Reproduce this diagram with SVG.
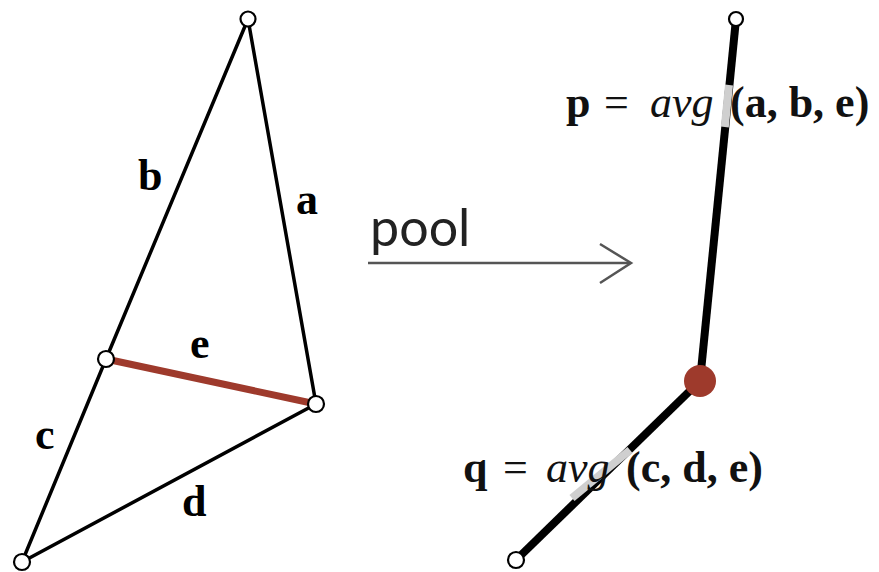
<svg xmlns="http://www.w3.org/2000/svg" width="879" height="572" viewBox="0 0 879 572">
<style>
.edge{stroke:#000;stroke-width:3.5;fill:none;stroke-linecap:round}
.red{stroke:#9e3a2c;stroke-width:7;fill:none}
.node{fill:#fff;stroke:#000;stroke-width:2.2}
.lbl{font-family:"Liberation Serif","DejaVu Serif",serif;font-weight:bold;font-size:44px;fill:#000}
.eq{font-family:"Liberation Serif","DejaVu Serif",serif;font-size:44px;fill:#111}
.b{font-weight:bold}
.i{font-style:italic}
.thick{stroke:#000;stroke-width:8;fill:none}
.hl{stroke:#cfcfcf;stroke-width:8;fill:none}
.pool{font-family:"Lato","Open Sans",sans-serif;font-weight:400;font-size:52px;fill:#222}
</style>
<rect width="879" height="572" fill="#fff"/>
<g id="connectors">
<line class="edge" x1="248" y1="19" x2="106" y2="359"/>
<line class="edge" x1="248" y1="19" x2="316" y2="404"/>
<line class="edge" x1="106" y1="359" x2="22" y2="562"/>
<line class="edge" x1="22" y1="562" x2="316" y2="404"/>
<line class="red" x1="106" y1="359" x2="316" y2="404"/>
<line class="thick" x1="736" y1="19" x2="700" y2="381"/>
<line class="hl" x1="729" y1="85" x2="724.8" y2="127"/>
<line class="thick" x1="700" y1="381" x2="516" y2="560"/>
<line class="hl" x1="630" y1="450" x2="572" y2="498"/>
<g stroke="#555" stroke-width="2.5" fill="none">
<line x1="368" y1="263" x2="630" y2="263"/>
<polyline points="600,244 631,263 600,283"/>
</g>
</g>
<g id="n_top"><circle class="node" cx="248" cy="19" r="7.5"/></g>
<g id="n_right"><circle class="node" cx="316" cy="404" r="8"/></g>
<g id="n_mid"><circle class="node" cx="106" cy="359" r="8"/></g>
<g id="n_bottom"><circle class="node" cx="22" cy="562" r="8"/></g>
<g id="n_rtop"><circle class="node" cx="736" cy="19" r="7"/></g>
<g id="n_rbot"><circle class="node" cx="516" cy="560" r="8"/></g>
<g id="n_pooled"><circle cx="700" cy="381" r="16" fill="#9e3a2c"/></g>
<g id="labels">
<text class="lbl" x="138" y="190">b</text>
<text class="lbl" x="296" y="214">a</text>
<text class="lbl" x="190" y="358">e</text>
<text class="lbl" x="35" y="449">c</text>
<text class="lbl" x="182" y="516">d</text>
<text class="pool" x="370" y="246">pool</text>
<text class="eq" y="117"><tspan class="b" x="566">p</tspan><tspan x="604">=</tspan><tspan class="i" x="650">avg</tspan><tspan class="b" x="730">(a, b, e)</tspan></text>
<text class="eq" y="482"><tspan class="b" x="463">q</tspan><tspan x="503">=</tspan><tspan class="i" x="546">avg</tspan><tspan class="b" x="626">(c, d, e)</tspan></text>
</g>
</svg>
